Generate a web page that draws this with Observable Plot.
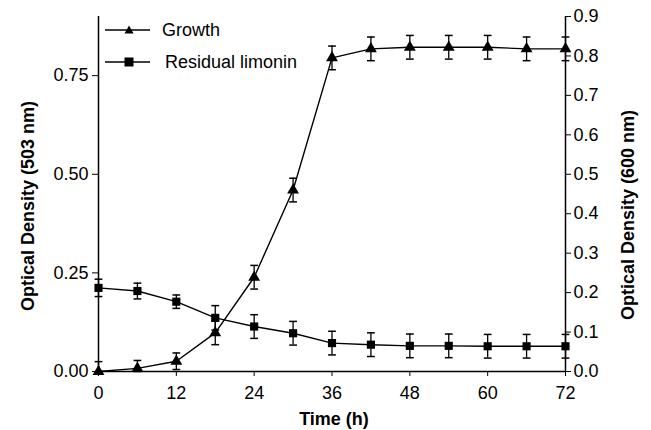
<!DOCTYPE html>
<html>
<head>
<meta charset="utf-8">
<script src="https://cdn.jsdelivr.net/npm/d3@7"></script>
<script src="https://cdn.jsdelivr.net/npm/@observablehq/plot@0.6"></script>
<style>
  html, body { margin: 0; padding: 0; background: #fff; }
  #wrap { position: relative; width: 651px; height: 430px; font-family: "Liberation Sans", Arial, sans-serif; color: #000; }
  #wrap svg text { font-family: "Liberation Sans", Arial, sans-serif; }
  .abs { position: absolute; white-space: nowrap; line-height: 18px; }
  .title { font-size: 18px; font-weight: bold; transform: translate(-50%, -50%); }
  .vtitle { font-size: 18px; font-weight: bold; transform: translate(-50%, -50%) rotate(-90deg); }
  .legtext { font-size: 18px; }
</style>
</head>
<body>
<div id="wrap"></div>
<script>
const times = [0, 6, 12, 18, 24, 30, 36, 42, 48, 54, 60, 66, 72];
const growth = [0.000, 0.008, 0.026, 0.098, 0.239, 0.460, 0.795, 0.818, 0.822, 0.822, 0.822, 0.818, 0.818];
const growthErr = [0.025, 0.020, 0.021, 0.030, 0.030, 0.030, 0.030, 0.030, 0.030, 0.030, 0.030, 0.030, 0.030];
const limonin = [0.212, 0.204, 0.177, 0.136, 0.114, 0.097, 0.072, 0.068, 0.065, 0.065, 0.064, 0.064, 0.064];
const limoninErr = [0.022, 0.020, 0.017, 0.031, 0.030, 0.030, 0.030, 0.030, 0.030, 0.030, 0.030, 0.030, 0.030];
const xTicks = [0, 12, 24, 36, 48, 60, 72];
const leftTicks = [0, 0.25, 0.5, 0.75];
const rightTicks = [0, 0.1, 0.2, 0.3, 0.4, 0.5, 0.6, 0.7, 0.8, 0.9];
const seriesNames = ["Growth", "Residual limonin"];
const xTitle = "Time (h)";
const leftTitle = "Optical Density (503 nm)";
const rightTitle = "Optical Density (600 nm)";

const g = times.map((t, i) => ({t, v: growth[i], e: growthErr[i]}));
const l = times.map((t, i) => ({t, v: limonin[i], e: limoninErr[i]}));
const cap = 0.6;

const errMarks = (data) => [
  Plot.ruleX(data, {x: "t", y1: d => Math.max(0, d.v - d.e), y2: d => d.v + d.e, stroke: "#000", strokeWidth: 1.3}),
  Plot.link(data, {x1: d => d.t - cap, x2: d => d.t + cap, y1: d => d.v + d.e, y2: d => d.v + d.e, stroke: "#000", strokeWidth: 1.5}),
  Plot.link(data, {x1: d => d.t - cap, x2: d => d.t + cap, y1: d => Math.max(0, d.v - d.e), y2: d => Math.max(0, d.v - d.e), stroke: "#000", strokeWidth: 1.5})
];

const chart = Plot.plot({
  width: 651,
  height: 430,
  marginLeft: 98,
  marginRight: 86,
  marginTop: 16,
  marginBottom: 59,
  style: {fontSize: "18px", fontFamily: "Liberation Sans, Arial, sans-serif", color: "#000", background: "#fff"},
  x: {domain: [0, 72]},
  y: {domain: [0, 0.9]},
  marks: [
    Plot.axisX({ticks: xTicks, tickFormat: d => String(d), tickSize: 5, tickPadding: 10, fontSize: 18, label: null}),
    Plot.axisY({anchor: "left", ticks: leftTicks, tickFormat: d3.format(".2f"), tickSize: 6, tickPadding: 4, fontSize: 18, label: null}),
    Plot.axisY({anchor: "right", ticks: rightTicks, tickFormat: d3.format(".1f"), tickSize: 5, tickPadding: 3, fontSize: 18, label: null}),
    Plot.ruleX([0, 72], {stroke: "#000", strokeWidth: 1.5}),
    Plot.ruleY([0], {stroke: "#000", strokeWidth: 1.5}),
    ...errMarks(l),
    ...errMarks(g),
    Plot.line(l, {x: "t", y: "v", stroke: "#000", strokeWidth: 1.4}),
    Plot.line(g, {x: "t", y: "v", stroke: "#000", strokeWidth: 1.4}),
    Plot.dot(l, {x: "t", y: "v", symbol: "square", r: 4.6, fill: "#000", stroke: "none"}),
    Plot.dot(g, {x: "t", y: "v", symbol: "triangle", r: 4.4, fill: "#000", stroke: "none"})
  ]
});
const wrap = document.getElementById("wrap");
wrap.appendChild(chart);

// axis titles and legend overlay
const sym = (type) => {
  const shape = type === "triangle"
    ? '<path d="M28,3.5 L32.5,11.5 L23.5,11.5 Z" fill="#000"/>'
    : '<rect x="23.5" y="3.5" width="9" height="9" fill="#000"/>';
  return `<svg width="52" height="16"><line x1="4" y1="8" x2="49" y2="8" stroke="#000" stroke-width="1.5"/>${shape}</svg>`;
};
const overlay = `
  <div class="abs title" style="left:334px;top:419px">${xTitle}</div>
  <div class="abs vtitle" style="left:28px;top:206px">${leftTitle}</div>
  <div class="abs vtitle" style="left:628px;top:215px">${rightTitle}</div>
  <div class="abs" style="left:101px;top:22px">${sym("triangle")}</div>
  <div class="abs legtext" style="left:162px;top:21px">${seriesNames[0]}</div>
  <div class="abs" style="left:101px;top:54px">${sym("square")}</div>
  <div class="abs legtext" style="left:165px;top:53px">${seriesNames[1]}</div>`;
wrap.insertAdjacentHTML("beforeend", overlay);
</script>
</body>
</html>
